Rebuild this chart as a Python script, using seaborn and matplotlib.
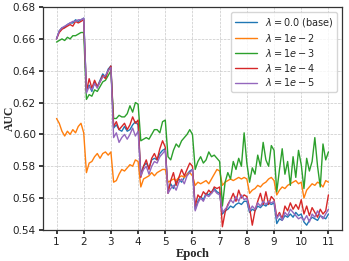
import numpy as np
import pandas as pd
import matplotlib
matplotlib.use("Agg")
import matplotlib.pyplot as plt
import seaborn as sns

# AUC per step (10 steps per epoch, epochs 1 -> 11)
auc_base = [
    0.660, 0.665, 0.667, 0.667, 0.669, 0.670, 0.670, 0.672, 0.671, 0.672,
    0.673, 0.628, 0.631, 0.627, 0.633, 0.630, 0.634, 0.638, 0.636, 0.641,
    0.643, 0.604, 0.606, 0.603, 0.602, 0.605, 0.602, 0.603, 0.606, 0.608,
    0.606, 0.575, 0.580, 0.582, 0.579, 0.584, 0.585, 0.584, 0.588, 0.590,
    0.591, 0.565, 0.569, 0.566, 0.570, 0.572, 0.570, 0.573, 0.575, 0.577,
    0.578, 0.553, 0.558, 0.561, 0.559, 0.563, 0.562, 0.564, 0.566, 0.564,
    0.563, 0.550, 0.552, 0.553, 0.555, 0.554, 0.556, 0.557, 0.556, 0.558,
    0.558, 0.551, 0.553, 0.552, 0.555, 0.554, 0.556, 0.555, 0.557, 0.556,
    0.557, 0.544, 0.547, 0.546, 0.549, 0.548, 0.550, 0.548, 0.551, 0.549,
    0.550, 0.545, 0.543, 0.546, 0.548, 0.547, 0.546, 0.549, 0.548, 0.547,
    0.550,
]
auc_1e2 = [
    0.610, 0.607, 0.602, 0.599, 0.602, 0.600, 0.603, 0.601, 0.605, 0.607,
    0.601, 0.576, 0.582, 0.583, 0.586, 0.588, 0.585, 0.588, 0.589, 0.587,
    0.589, 0.570, 0.571, 0.575, 0.578, 0.577, 0.579, 0.581, 0.580, 0.584,
    0.583, 0.567, 0.572, 0.573, 0.574, 0.576, 0.574, 0.576, 0.577, 0.578,
    0.578, 0.570, 0.571, 0.572, 0.571, 0.573, 0.574, 0.573, 0.575, 0.576,
    0.574, 0.568, 0.570, 0.569, 0.570, 0.571, 0.569, 0.572, 0.575, 0.578,
    0.577, 0.568, 0.570, 0.571, 0.572, 0.571, 0.572, 0.573, 0.572, 0.573,
    0.572, 0.563, 0.565, 0.566, 0.568, 0.567, 0.569, 0.570, 0.572, 0.573,
    0.571, 0.562, 0.565, 0.567, 0.566, 0.568, 0.569, 0.570, 0.571, 0.569,
    0.570, 0.560, 0.565, 0.567, 0.569, 0.568, 0.570, 0.569, 0.567, 0.571,
    0.570,
]
auc_1e3 = [
    0.658, 0.659, 0.660, 0.659, 0.661, 0.660, 0.662, 0.662, 0.663, 0.664,
    0.664, 0.622, 0.625, 0.624, 0.628, 0.627, 0.630, 0.633, 0.634, 0.637,
    0.640, 0.610, 0.610, 0.612, 0.611, 0.611, 0.613, 0.618, 0.614, 0.620,
    0.619, 0.596, 0.597, 0.598, 0.597, 0.600, 0.603, 0.603, 0.601, 0.608,
    0.609, 0.586, 0.584, 0.590, 0.594, 0.592, 0.596, 0.598, 0.600, 0.603,
    0.600, 0.578, 0.583, 0.586, 0.582, 0.584, 0.589, 0.586, 0.587, 0.585,
    0.583, 0.555, 0.570, 0.576, 0.572, 0.583, 0.578, 0.585, 0.580, 0.601,
    0.582, 0.570, 0.579, 0.575, 0.587, 0.580, 0.595, 0.584, 0.580, 0.593,
    0.590, 0.564, 0.578, 0.591, 0.575, 0.583, 0.568, 0.586, 0.573, 0.590,
    0.581, 0.566, 0.585, 0.577, 0.583, 0.598, 0.580, 0.567, 0.594, 0.584,
    0.589,
]
auc_1e4 = [
    0.660, 0.664, 0.666, 0.667, 0.668, 0.669, 0.668, 0.671, 0.670, 0.671,
    0.672, 0.627, 0.635, 0.629, 0.634, 0.630, 0.633, 0.637, 0.635, 0.640,
    0.643, 0.605, 0.608, 0.603, 0.605, 0.607, 0.603, 0.606, 0.611, 0.607,
    0.609, 0.573, 0.580, 0.584, 0.578, 0.585, 0.588, 0.584, 0.591, 0.596,
    0.592, 0.563, 0.571, 0.576, 0.568, 0.573, 0.578, 0.574, 0.578, 0.582,
    0.580, 0.555, 0.562, 0.560, 0.564, 0.562, 0.565, 0.563, 0.567, 0.566,
    0.567, 0.542, 0.551, 0.556, 0.559, 0.563, 0.558, 0.565, 0.560, 0.562,
    0.561, 0.554, 0.543, 0.552, 0.558, 0.563, 0.556, 0.564, 0.556, 0.561,
    0.559, 0.548, 0.551, 0.547, 0.555, 0.552, 0.557, 0.553, 0.556, 0.553,
    0.559, 0.550, 0.555, 0.549, 0.554, 0.551, 0.548, 0.553, 0.550, 0.552,
    0.562,
]
auc_1e5 = [
    0.660, 0.665, 0.667, 0.668, 0.669, 0.670, 0.671, 0.671, 0.672, 0.672,
    0.673, 0.626, 0.630, 0.628, 0.632, 0.629, 0.633, 0.636, 0.637, 0.640,
    0.642, 0.598, 0.601, 0.595, 0.598, 0.600, 0.597, 0.600, 0.604, 0.599,
    0.602, 0.574, 0.578, 0.580, 0.575, 0.580, 0.583, 0.582, 0.586, 0.588,
    0.590, 0.563, 0.566, 0.568, 0.565, 0.570, 0.572, 0.569, 0.574, 0.576,
    0.578, 0.552, 0.557, 0.560, 0.558, 0.562, 0.561, 0.563, 0.565, 0.563,
    0.562, 0.551, 0.553, 0.555, 0.559, 0.557, 0.561, 0.558, 0.562, 0.559,
    0.560, 0.552, 0.555, 0.553, 0.557, 0.555, 0.558, 0.556, 0.558, 0.557,
    0.558, 0.547, 0.550, 0.546, 0.551, 0.549, 0.553, 0.551, 0.549, 0.547,
    0.548, 0.546, 0.549, 0.545, 0.550, 0.548, 0.552, 0.549, 0.547, 0.550,
    0.553,
]

labels = [r"$\lambda = 0.0$ (base)", r"$\lambda = 1e-2$", r"$\lambda = 1e-3$",
          r"$\lambda = 1e-4$", r"$\lambda = 1e-5$"]
series = [auc_base, auc_1e2, auc_1e3, auc_1e4, auc_1e5]
colors = ["#1f77b4", "#ff7f0e", "#2ca02c", "#d62728", "#9467bd"]

epochs = 1 + np.arange(len(auc_base)) / 10

df = pd.concat(
    [pd.DataFrame({"Epoch": epochs, "AUC": vals, "run": lab}) for lab, vals in zip(labels, series)],
    ignore_index=True,
)

sns.set_theme(style="whitegrid", rc={
    "axes.edgecolor": "#333333",
    "axes.linewidth": 0.9,
    "grid.linestyle": "--",
    "grid.linewidth": 0.5,
    "grid.color": "#c8c8c8",
    "xtick.bottom": True,
    "ytick.left": True,
    "xtick.major.size": 3,
    "ytick.major.size": 3,
    "xtick.color": "#222222",
    "ytick.color": "#222222",
})
plt.rcParams["font.family"] = ["DejaVu Sans"]

fig, ax = plt.subplots(figsize=(3.49, 2.61), dpi=100)
sns.lineplot(data=df, x="Epoch", y="AUC", hue="run", hue_order=labels,
             palette=colors, linewidth=1.0, ax=ax)

ax.set_xlim(0.5, 11.5)
ax.set_ylim(0.54, 0.68)
ax.set_xticks(range(1, 12))
ax.set_yticks([0.54, 0.56, 0.58, 0.60, 0.62, 0.64, 0.66, 0.68])
ax.tick_params(labelsize=7.5, pad=2)
ax.set_xlabel("Epoch", fontsize=9, fontweight="bold", family="Liberation Serif", labelpad=1)
ax.set_ylabel("AUC", fontsize=8.5, fontweight="bold", family="Liberation Serif")
ax.yaxis.set_label_coords(-0.09, 0.5)

leg = ax.legend(loc="upper right", fontsize=7, handlelength=2.2, borderpad=0.4,
                labelspacing=0.3, framealpha=0.8)
for line in leg.get_lines():
    line.set_linewidth(1.0)

fig.subplots_adjust(left=0.123, right=0.98, top=0.973, bottom=0.119)
fig.savefig("out.png", dpi=100)
